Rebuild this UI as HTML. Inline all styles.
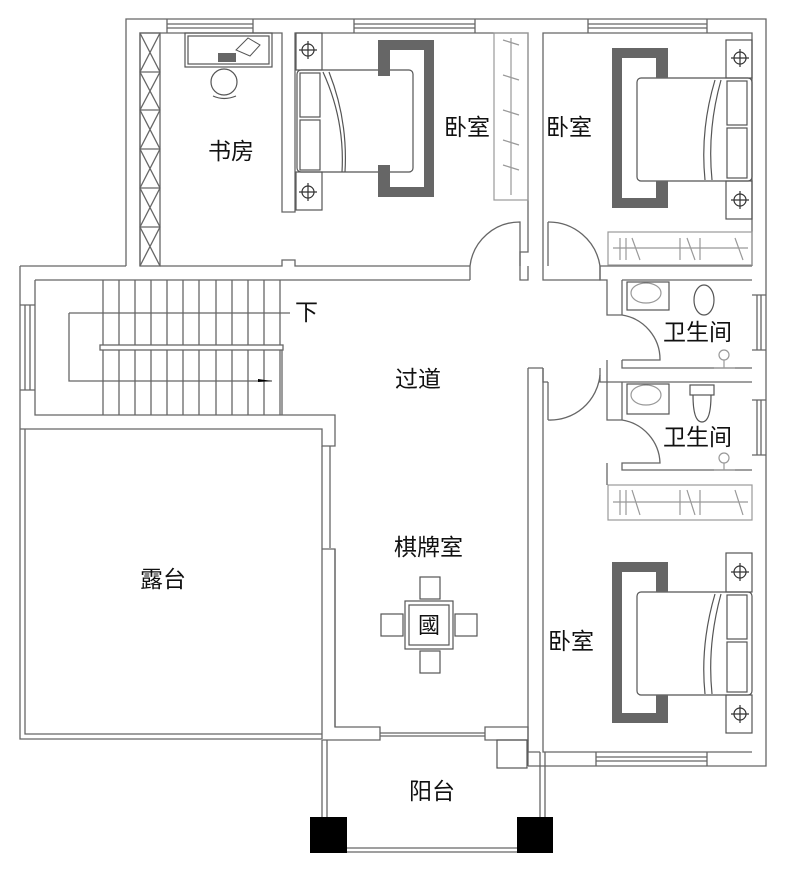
<!DOCTYPE html>
<html><head><meta charset="utf-8"><style>
html,body{margin:0;padding:0;background:#fff;}
svg{display:block;}
text{font-family:"Liberation Sans","Noto Sans CJK SC",sans-serif;font-size:23px;fill:#111;}
</style></head><body>
<svg width="789" height="871" viewBox="0 0 789 871" xmlns="http://www.w3.org/2000/svg">
<g fill="none" stroke="#666" stroke-width="1.3">
<path d="M126,266 V19 H766 V766 H528"/>
<path d="M140,266 V33 H282 V212 H295 V33 H528 V252 H520 V266"/>
<path d="M543,266 V252 H543 V33 H752 V266"/>
<path d="M167,19 V33 M253,19 V33 M167,24 H253 M167,28 H253"/>
<path d="M354,19 V33 M475,19 V33 M354,24 H475 M354,28 H475"/>
<path d="M588,19 V33 M707,19 V33 M588,24 H707 M588,28 H707"/>
<rect x="140" y="33" width="20" height="233"/>
<path d="M140,33 L160,72 L140,110 L160,149 L140,188 L160,227 L140,266 M160,33 L140,72 L160,110 L140,149 L160,188 L140,227 L160,266 M140,72H160M140,110H160M140,149H160M140,188H160M140,227H160"/>
<path d="M20,266 H126 M160,266 H282 V260 H295 V266 H470"/>
<path d="M35,280 H470"/>
<path d="M470,266 V280 M520,266 V280 H528 V266 M543,266 V280 H600 V266 H752"/>
<path d="M470,266 A50,50 0 0 1 520,222 V266"/>
<path d="M548,222 V266 M548,222 A52,52 0 0 1 600,266"/>
<path d="M20,266 V429 M35,280 V415 H335 V446 H322 V429 H20"/>
<path d="M20,305 H35 M20,390 H35 M25,305 V390 M30,305 V390"/>
<path d="M103,280 V415 M119,280V415 M135,280V415 M151,280V415 M167,280V415 M183,280V415 M199,280V415 M216,280V415 M232,280V415 M248,280V415 M264,280V415 M280,280V415"/>
<rect x="100" y="345" width="183" height="5" fill="#fff"/>
<path d="M282,350 V415"/>
<path d="M69,313 H290 M69,313 V381 H272"/>
<path d="M20,429 V739 H322 M25,429 V734 H322"/>
<path d="M322,446 V739 M330,446 V548"/>
<path d="M322,549 H335 V727 H380 V740 H322 M322,740 V820"/>
<path d="M380,733 H485 M380,736 H485"/>
<path d="M485,727 H528 V740 H485 Z"/>
<path d="M335,727 V549"/>
<path d="M327,740 V820 M540,752 V820 M545,752 V820 M347,848 H517 M347,852 H517"/>
<path d="M528,740 V752 H540"/>
<path d="M528,368 V766 M543,368 V752 H752 M528,368 H543"/>
<path d="M543,368 V382 H548 M548,382 V420"/>
<path d="M548,420 A50,50 0 0 0 600,375"/>
<path d="M596,752 V766 M707,752 V766 M596,757 H707 M596,761 H707"/>
<path d="M600,266 V280 H607 V315 H622 M607,360 V382 H600 V368 M622,280 H752"/>
<path d="M622,280 V315 M622,360 V368 H752"/>
<path d="M622,315 A45,45 0 0 1 660,360 H622"/>
<path d="M607,382 H752 M622,382 V420 M607,382 V420 H622"/>
<path d="M622,420 A45,45 0 0 1 660,463 H622 V470 H752 M607,463 V485"/>
<path d="M752,295 H766 M752,350 H766 M757,295 V350 M761,295 V350"/>
<path d="M752,400 H766 M752,455 H766 M757,400 V455 M761,400 V455"/>
</g>
<g fill="none" stroke="#999" stroke-width="1.2">
<rect x="494" y="33" width="34" height="167"/>
<path d="M511,38 V195 M503,40 L519,45 M503,75 L519,80 M503,110 L519,115 M503,140 L519,145 M503,165 L519,170"/>
<rect x="608" y="232" width="144" height="33"/>
<path d="M613,248 H748 M620,238 V260 M626,238 V260 M632,238 L640,260 M680,238 V260 M687,238 L695,260 M700,238 V260 M735,238 L743,260"/>
<rect x="608" y="485" width="144" height="35"/>
<path d="M613,502 H748 M620,490 V515 M626,490 V515 M632,490 L640,515 M680,490 V515 M687,490 L695,515 M700,490 V515 M735,490 L743,515"/>
<ellipse cx="646" cy="293" rx="15" ry="10"/>
<ellipse cx="646" cy="395" rx="15" ry="10"/>
<circle cx="724" cy="355" r="5"/><path d="M714,368 H735 M724,360 V368"/>
<circle cx="724" cy="458" r="5"/><path d="M714,470 H735 M724,463 V470"/>
</g>
<g fill="none" stroke="#555" stroke-width="1.2">
<rect x="627" y="282" width="42" height="28"/>
<rect x="627" y="384" width="42" height="30"/>
<ellipse cx="704" cy="300" rx="10" ry="15"/>
<rect x="690" y="385" width="24" height="10"/>
<path d="M693,395 Q693,422 702,422 Q711,422 711,395"/>
<rect x="185" y="33" width="87" height="34"/>
<rect x="188" y="36" width="81" height="28"/>
<ellipse cx="224" cy="82" rx="13" ry="13"/>
<path d="M213,96 Q224,101 236,96"/>
<rect x="296" y="33" width="26" height="37"/>
<rect x="296" y="172" width="26" height="38"/>
<rect x="297" y="70" width="116" height="102" rx="4"/>
<rect x="300" y="73" width="20" height="44"/>
<rect x="300" y="120" width="20" height="50"/>
<path d="M323,72 Q345,120 342,172 M329,72 Q348,120 345,172"/>
<rect x="726" y="40" width="26" height="38"/>
<rect x="726" y="181" width="26" height="38"/>
<rect x="637" y="78" width="115" height="103" rx="4"/>
<rect x="727" y="81" width="20" height="44"/>
<rect x="727" y="128" width="20" height="50"/>
<path d="M715,80 Q700,130 705,180 M721,80 Q707,130 712,180"/>
<rect x="726" y="553" width="26" height="39"/>
<rect x="726" y="695" width="26" height="38"/>
<rect x="637" y="592" width="115" height="103" rx="4"/>
<rect x="727" y="595" width="20" height="44"/>
<rect x="727" y="642" width="20" height="50"/>
<path d="M715,594 Q700,645 705,694 M721,594 Q707,645 712,694"/>
<rect x="405" y="601" width="48" height="48"/>
<rect x="409" y="605" width="40" height="40"/>
<rect x="420" y="577" width="20" height="22"/>
<rect x="420" y="651" width="20" height="22"/>
<rect x="381" y="614" width="22" height="22"/>
<rect x="455" y="614" width="22" height="22"/>
<rect x="497" y="740" width="30" height="28"/>
</g>
<g fill="none" stroke="#333" stroke-width="1.2">
<circle cx="308" cy="50" r="6"/><path d="M308,41V59M299,50H317"/>
<circle cx="308" cy="192" r="6"/><path d="M308,183V201M299,192H317"/>
<circle cx="740" cy="58" r="6"/><path d="M740,49V67M731,58H749"/>
<circle cx="740" cy="200" r="6"/><path d="M740,191V209M731,200H749"/>
<circle cx="740" cy="572" r="6"/><path d="M740,563V581M731,572H749"/>
<circle cx="740" cy="714" r="6"/><path d="M740,705V723M731,714H749"/>
</g>
<g fill="none" stroke="#666" stroke-width="10">
<path d="M380,45 H429 V192 H380"/>
<path d="M666,53 H617 V203 H666"/>
<path d="M666,567 H617 V718 H666"/>
</g>
<rect x="378" y="40" width="12" height="36" fill="#666"/><rect x="378" y="165" width="12" height="32" fill="#666"/>
<rect x="656" y="48" width="12" height="30" fill="#666"/><rect x="656" y="181" width="12" height="27" fill="#666"/>
<rect x="656" y="562" width="12" height="30" fill="#666"/><rect x="656" y="695" width="12" height="28" fill="#666"/>
<rect x="218" y="53" width="18" height="9" fill="#666"/>
<path d="M236,50 L248,38 L260,45 L250,56 Z" fill="none" stroke="#555"/>
<path d="M258,382 L272,381 L258,379 Z" fill="#000"/>
<text x="418" y="633" style="font-size:22px">國</text>
<rect x="310" y="817" width="37" height="36" fill="#000"/>
<rect x="517" y="817" width="36" height="36" fill="#000"/>
<text x="208" y="159">书房</text>
<text x="444" y="135">卧室</text>
<text x="546" y="135">卧室</text>
<text x="295" y="320">下</text>
<text x="395" y="387">过道</text>
<text x="663" y="340">卫生间</text>
<text x="663" y="445">卫生间</text>
<text x="394" y="555">棋牌室</text>
<text x="140" y="587">露台</text>
<text x="548" y="649">卧室</text>
<text x="409" y="799">阳台</text>
</svg>
</body></html>
